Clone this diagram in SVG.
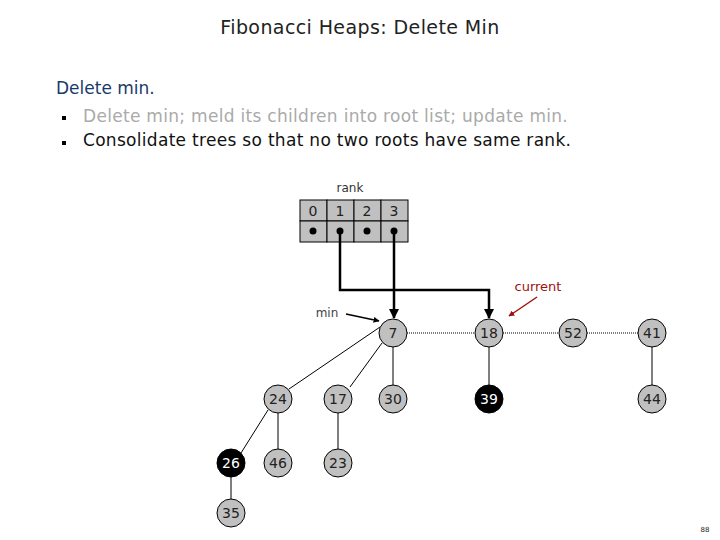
<svg xmlns="http://www.w3.org/2000/svg" width="720" height="540" viewBox="0 0 720 540">
<defs>
<marker id="ah" viewBox="0 0 10 10" refX="9" refY="5" markerWidth="4" markerHeight="4" orient="auto"><path d="M0,0L10,5L0,10z" fill="#000"/></marker>
<marker id="ahr" viewBox="0 0 10 10" refX="9" refY="5" markerWidth="4" markerHeight="4" orient="auto"><path d="M0,0L10,5L0,10z" fill="#a01010"/></marker>
</defs>
<style>
text{font-family:"DejaVu Sans","Liberation Sans",sans-serif}
.n circle{fill:#c0c0c0;stroke:#000;stroke-width:1}
.n text{font-size:14px;text-anchor:middle;fill:#222}
.b circle{fill:#000}
.b text{fill:#fff}
.e{stroke:#000;stroke-width:1;fill:none}
.d{stroke:#000;stroke-width:1;stroke-dasharray:1,1;fill:none}
.p{stroke:#000;stroke-width:2.5;fill:none}
.cell{fill:#c0c0c0;stroke:#000;stroke-width:1}
</style>
<rect width="720" height="540" fill="#fff"/>
<text x="360" y="34" font-size="19" text-anchor="middle" fill="#222" letter-spacing="0.4">Fibonacci Heaps:  Delete Min</text>
<text x="56" y="94" font-size="17" fill="#1a3a6a">Delete min.</text>
<rect x="62" y="116" width="4" height="4" fill="#000"/>
<rect x="62" y="141" width="4" height="4" fill="#000"/>
<text x="83" y="122" font-size="17" fill="#aaa" letter-spacing="0.3">Delete min; meld its children into root list; update min.</text>
<text x="83" y="146" font-size="17" fill="#111" letter-spacing="0.3">Consolidate trees so that no two roots have same rank.</text>
<g id="rank-table">
<text x="350" y="192" font-size="12" text-anchor="middle" fill="#333">rank</text>
<rect class="cell" x="300" y="200" width="27" height="21"/><rect class="cell" x="327" y="200" width="27" height="21"/><rect class="cell" x="354" y="200" width="27" height="21"/><rect class="cell" x="381" y="200" width="27" height="21"/>
<rect class="cell" x="300" y="221" width="27" height="21"/><rect class="cell" x="327" y="221" width="27" height="21"/><rect class="cell" x="354" y="221" width="27" height="21"/><rect class="cell" x="381" y="221" width="27" height="21"/>
<g font-size="14" text-anchor="middle" fill="#222"><text x="313" y="216">0</text><text x="340" y="216">1</text><text x="367" y="216">2</text><text x="394" y="216">3</text></g>
<circle cx="313" cy="231" r="3.5"/><circle cx="340" cy="231" r="3.5"/><circle cx="367" cy="231" r="3.5"/><circle cx="394" cy="231" r="3.5"/>
</g>
<g id="connectors">
<path class="p" d="M340,231V290H489V318" marker-end="url(#ah)"/>
<path class="p" d="M394,231V318" marker-end="url(#ah)"/>
<path stroke="#000" stroke-width="1.5" d="M346,314L379,321" marker-end="url(#ah)"/>
<path stroke="#a01010" stroke-width="1.5" d="M537,297L509,316" marker-end="url(#ahr)"/>
<path class="d" d="M407,333H475M503,333H559M587,333H638"/>
<path class="e" d="M380,327L289,389M382,343L350,387M393,347V385M489,347V385M652,347V385M338,413V449M278,413V449M268,410L241,453M231,477V499"/>
</g>
<text x="327" y="317" font-size="12" text-anchor="middle" fill="#444">min</text>
<text x="538" y="291" font-size="13" text-anchor="middle" fill="#a01010">current</text>
<g id="n7" class="n"><circle cx="393" cy="333" r="14"/><text x="393" y="338">7</text></g>
<g id="n18" class="n"><circle cx="489" cy="333" r="14"/><text x="489" y="338">18</text></g>
<g id="n52" class="n"><circle cx="573" cy="333" r="14"/><text x="573" y="338">52</text></g>
<g id="n41" class="n"><circle cx="652" cy="333" r="14"/><text x="652" y="338">41</text></g>
<g id="n24" class="n"><circle cx="278" cy="399" r="14"/><text x="278" y="404">24</text></g>
<g id="n17" class="n"><circle cx="338" cy="399" r="14"/><text x="338" y="404">17</text></g>
<g id="n30" class="n"><circle cx="393" cy="399" r="14"/><text x="393" y="404">30</text></g>
<g id="n39" class="n b"><circle cx="489" cy="399" r="14"/><text x="489" y="404">39</text></g>
<g id="n44" class="n"><circle cx="652" cy="399" r="14"/><text x="652" y="404">44</text></g>
<g id="n26" class="n b"><circle cx="231" cy="463" r="14"/><text x="231" y="468">26</text></g>
<g id="n46" class="n"><circle cx="278" cy="463" r="14"/><text x="278" y="468">46</text></g>
<g id="n23" class="n"><circle cx="338" cy="463" r="14"/><text x="338" y="468">23</text></g>
<g id="n35" class="n"><circle cx="231" cy="513" r="14"/><text x="231" y="518">35</text></g>
<text x="705" y="532" font-size="7" text-anchor="middle" fill="#222">88</text>
</svg>
